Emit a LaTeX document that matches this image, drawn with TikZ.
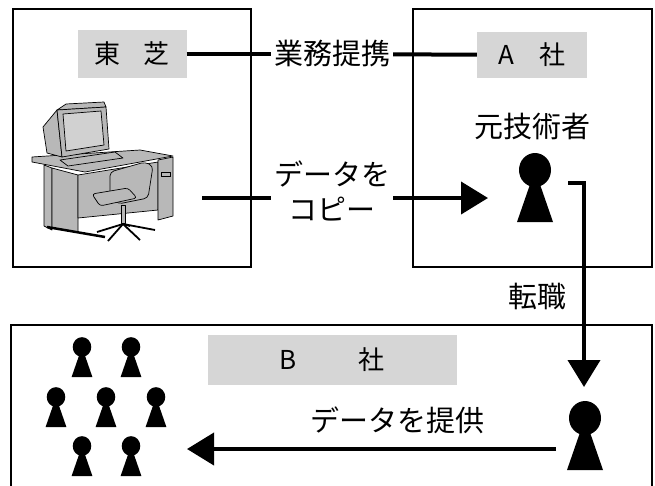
\documentclass[tikz,border=0pt]{standalone}
\usepackage{fontspec}
\newfontfamily\jpfont{Noto Sans CJK JP}
\usetikzlibrary{arrows.meta}

\begin{document}
\begin{tikzpicture}[x=1pt,y=-1pt,
    company/.style={draw,line width=1.6pt},
    tag/.style={fill=black!16,inner sep=0pt,font=\jpfont\fontsize{26}{28}\selectfont},
    caption/.style={inner sep=3pt,align=center,font=\jpfont\fontsize{29}{35}\selectfont},
    link/.style={line width=4pt},
    flow/.style={line width=4pt,-{Triangle[length=27pt,width=32pt]}},
    clipart/.style={fill=black!28,draw,line width=0.7pt,line join=round},
    person/.pic={
      \fill (0,0) ellipse (16 and 17);
      \fill (0,0) -- (-18,52) -- (18,52) -- cycle;
    }]
		\useasboundingbox (0,0) rectangle (655,485);
		% companies
		\draw[company] (13,9) rectangle (251,267);
		\draw[company] (413,9) rectangle (652,267);
		\draw[company] (11,325) rectangle (652,495);
		\node[tag,minimum width=109pt,minimum height=48pt] (toshiba) at (132,54) {東\hspace{24pt}芝};
		\node[tag,minimum width=110pt,minimum height=46pt] (asha) at (532,55) {A\hspace{26pt}社};
		\node[tag,minimum width=249pt,minimum height=50pt] (bsha) at (332,360) {B\hspace{62pt}社};
		% computer
		\filldraw[clipart] (32,157) -- (140,150) -- (173,156) -- (85,172) -- (32,162) -- cycle;
		\filldraw[clipart] (44,165) -- (52,168) -- (52,230) -- (44,226) -- cycle;
		\filldraw[clipart] (52,168) -- (78,175) -- (78,232) -- (52,228) -- cycle;
		\filldraw[clipart] (78,175) -- (158,162) -- (158,210) -- (78,218) -- cycle;
		\filldraw[clipart] (158,160) -- (173,157) -- (173,216) -- (158,220) -- cycle;
		\draw[line width=0.7pt] (161,172) rectangle (170,176);
		\draw[line width=2.5pt] (47,227) -- (105,237);
		\filldraw[clipart] (43,127) -- (57,110) -- (62,157) -- (47,153) -- cycle;
		\filldraw[clipart] (57,110) -- (66,104) -- (104,102) -- (106,107) -- cycle;
		\filldraw[clipart] (57,110) -- (106,107) -- (109,149) -- (62,157) -- cycle;
		\filldraw[clipart,fill=black!18] (63,114) -- (101,111) -- (104,145) -- (66,151) -- cycle;
		\filldraw[clipart] (60,160) -- (115,152) -- (123,158) -- (68,166) -- cycle;
		\filldraw[clipart,rounded corners=4pt] (110,172) -- (145,162) -- (153,166) -- (148,198) -- (118,204) -- (110,195) -- cycle;
		\filldraw[clipart,rounded corners=3pt] (92,194) -- (128,188) -- (137,198) -- (100,206) -- cycle;
		\filldraw[clipart] (121,205) rectangle (125,223);
		\foreach \wx/\wy in {97/232,108/241,140/240,155/230,130/226}
			\draw[line width=1.8pt] (123,224) -- (\wx,\wy);
		% people
		\coordinate (atech) at (535,170);
		\pic at (atech) {person};
		\coordinate (btech) at (585,418);
		\pic at (btech) {person};
		\foreach \gx/\gy in {82/347,131/347,56/397,106/397,156/397,82/446,131/446}
			\pic[scale=0.58] at (\gx,\gy) {person};
		% labels
		\node[caption] (teikei) at (332,54) {業務提携};
		\node[caption] (copy) at (332,191) {データを\\コピー};
		\node[caption] (moto) at (532,126) {元技術者};
		\node[caption] (tenshoku) at (537,296) {転職};
		\node[caption] (teikyo) at (397,420) {データを提供};
		% connectors
		\coordinate (pc) at (202,198);
		\coordinate (acopy) at (488,198);
		\coordinate (aout) at (568,183);
		\coordinate (bin) at (584,387);
		\coordinate (bout) at (556,449);
		\coordinate (group) at (187,449);
		\draw[link] (toshiba) -- (teikei);
		\draw[link] (teikei) -- (asha);
		\draw[link] (pc) -- (pc -| copy.west);
		\draw[flow] (pc -| copy.east) -- (acopy);
		\draw[flow] (aout) -| (bin);
		\draw[flow] (bout) -- (group);
	\end{tikzpicture}
\end{document}
